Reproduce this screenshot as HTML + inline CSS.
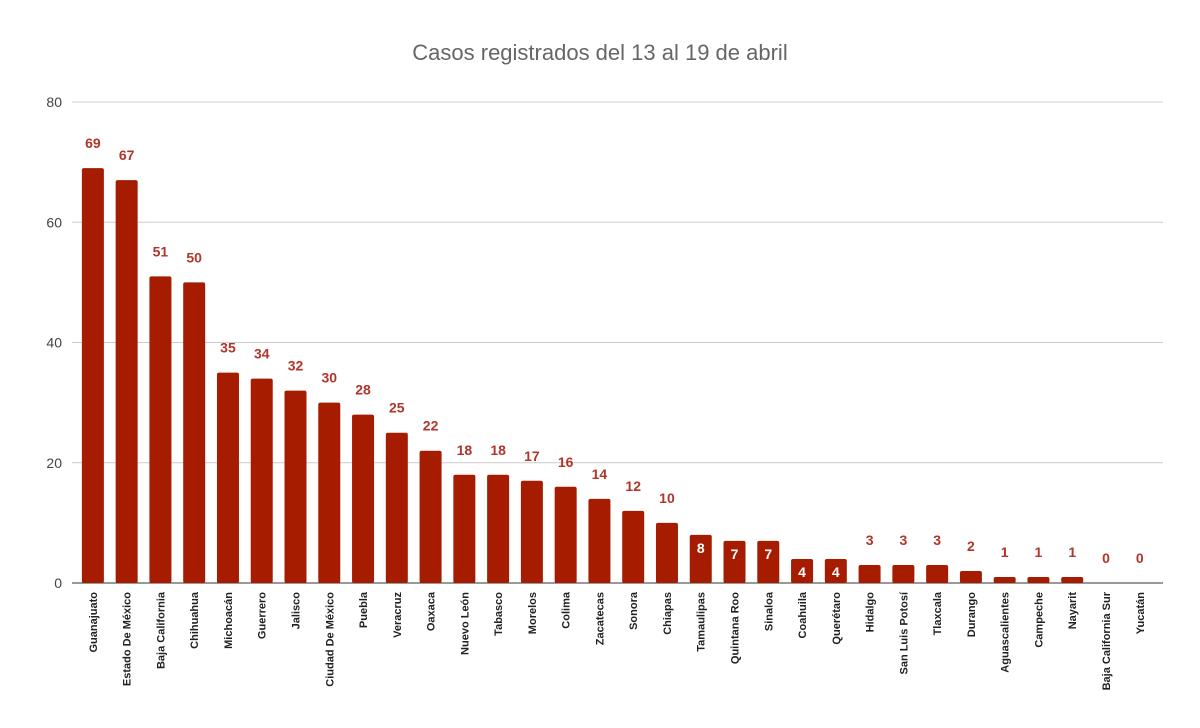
<!DOCTYPE html>
<html><head><meta charset="utf-8"><style>
body{margin:0;background:#fff;}
svg{display:block;font-family:"Liberation Sans",sans-serif;}
</style></head><body>
<svg id="chart" width="1200" height="728">
<text x="600" y="60" text-anchor="middle" font-size="22" fill="#666">Casos registrados del 13 al 19 de abril</text>
<g id="grid"></g>
<g id="bars"></g>
<g id="xlabels"></g>
</svg>
<script>
const categories=["Guanajuato","Estado De México","Baja California","Chihuahua","Michoacán","Guerrero","Jalisco","Ciudad De México","Puebla","Veracruz","Oaxaca","Nuevo León","Tabasco","Morelos","Colima","Zacatecas","Sonora","Chiapas","Tamaulipas","Quintana Roo","Sinaloa","Coahuila","Querétaro","Hidalgo","San Luis Potosí","Tlaxcala","Durango","Aguascalientes","Campeche","Nayarit","Baja California Sur","Yucatán"];
const values=[69,67,51,50,35,34,32,30,28,25,22,18,18,17,16,14,12,10,8,7,7,4,4,3,3,3,2,1,1,1,0,0];
const yTicks=[0,20,40,60,80];
const NS="http://www.w3.org/2000/svg";
const y0=583,y1=102,ymax=80,x0=76,step=33.77,bw=22;
const y=v=>y0-(v/ymax)*(y0-y1);
const xc=i=>x0+step*(i+0.5);
function mk(tag,attrs,parent){const e=document.createElementNS(NS,tag);for(const k in attrs)e.setAttribute(k,attrs[k]);parent.appendChild(e);return e;}
const grid=document.getElementById('grid'),bars=document.getElementById('bars'),xl=document.getElementById('xlabels');
yTicks.forEach(t=>{
 const l=mk('line',{x1:72,x2:1163,y1:y(t),y2:y(t),stroke:t===0?'#333':'#ccc','stroke-width':1},grid);
 
 
 const tx=mk('text',{x:62,y:y(t)+5,'text-anchor':'end','font-size':14,fill:'#444'},grid);
 tx.textContent=t;
 
 
});
values.forEach((v,i)=>{
 const cx=xc(i);
 if(v>0){
  const r=mk('rect',{x:cx-bw/2,y:y(v),width:bw,height:y0-y(v),rx:2,fill:'#a61c00'},bars);
  
  
 }
 const inside=v>=4&&v<=8;
 const t=mk('text',{x:cx,'text-anchor':'middle','font-size':14,'font-weight':'bold',fill:inside?'#fff':'#b0352a'},bars);
 t.setAttribute('y',inside?y(v)+18:y(v)-20);
 t.textContent=v;
 
 
 const lab=mk('text',{x:0,y:0,'text-anchor':'end','font-size':11,'font-weight':'bold',fill:'#222',transform:`translate(${cx+4},592) rotate(-90)`},xl);
 lab.textContent=categories[i];
 
 
});
</script>
</body></html>
